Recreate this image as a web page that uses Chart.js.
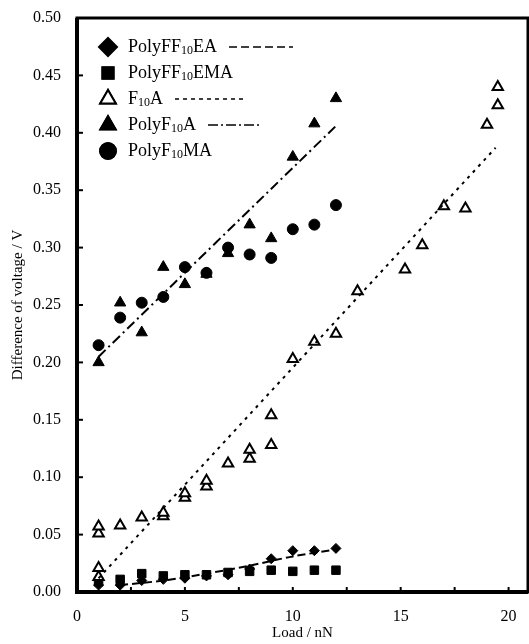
<!DOCTYPE html>
<html>
<head>
<meta charset="utf-8">
<script src="https://cdn.jsdelivr.net/npm/chart.js@4.4.1/dist/chart.umd.min.js"></script>
<style>
  html, body { margin: 0; padding: 0; background: #fff; }
</style>
</head>
<body>
<canvas id="chart" width="529" height="644"></canvas>
<script>
// values
const loadX = [1, 2, 3, 4, 5, 6, 7, 8, 9, 10, 11, 12];
const polyFF10EA = [0.006, 0.006, 0.010, 0.011, 0.012, 0.014, 0.015, 0.020, 0.029, 0.036, 0.036, 0.038];
const polyFF10EMA = [0.009, 0.011, 0.016, 0.014, 0.015, 0.015, 0.017, 0.018, 0.019, 0.018, 0.019, 0.019];
const polyF10A = [0.200, 0.252, 0.226, 0.283, 0.268, 0.277, 0.295, 0.320, 0.308, 0.379, 0.408, 0.430];
const polyF10MA = [0.215, 0.239, 0.252, 0.257, 0.283, 0.278, 0.300, 0.294, 0.291, 0.316, 0.320, 0.337];

const f10aX = [1, 1, 1, 1, 2, 3, 4, 4, 5, 5, 6, 6, 7, 8, 8, 9, 9, 10, 11, 12, 13, 15.2, 16, 17, 18, 19, 19.5, 19.5];
const f10aY = [0.013, 0.021, 0.051, 0.057, 0.058, 0.065, 0.066, 0.069, 0.082, 0.086, 0.092, 0.097, 0.112, 0.116, 0.124,
               0.128, 0.154, 0.203, 0.218, 0.225, 0.262, 0.281, 0.302, 0.336, 0.334, 0.407, 0.424, 0.440];

// fitted lines
const fitEAX = [2, 4, 6, 8, 10, 12];
const fitEAY = [0.006, 0.010, 0.016, 0.023, 0.031, 0.037];
const fitF10AX = [1, 19.4];
const fitF10AY = [0.012, 0.387];
const fitPolyF10AX = [1, 12];
const fitPolyF10AY = [0.205, 0.406];

const xTicks = [0, 5, 10, 15, 20];
const yTicks = [0, 0.05, 0.10, 0.15, 0.20, 0.25, 0.30, 0.35, 0.40, 0.45, 0.50];

const serif = '"Liberation Serif", "Times New Roman", serif';

function pts(xs, ys) {
    return xs.map((x, i) => ({ x: x, y: ys[i] }));
}

function markers(data, style, filled, r) {
    return {
        type: "scatter",
        data: data,
        pointStyle: style,
        pointRadius: r,
        pointHoverRadius: r,
        backgroundColor: filled ? "#000" : "#fff",
        borderColor: "#000",
        borderWidth: filled ? 1 : 2,
    };
}

function fitLine(data, dash) {
    return {
        type: "line",
        data: data,
        borderColor: "#000",
        borderWidth: 2,
        borderDash: dash,
        pointRadius: 0,
        fill: false,
        tension: 0.3,
    };
}

// frame, inward ticks and the x tick labels
const framePlugin = {
    id: "frame",
    beforeDatasetsDraw(chart) {
        const { ctx, chartArea: a, scales } = chart;
        ctx.save();
        ctx.strokeStyle = "#000";
        ctx.lineWidth = 2;
        for (let v = 0; v <= 20; v += 2.5) {
            const px = scales.x.getPixelForValue(v);
            ctx.beginPath();
            ctx.moveTo(px, a.bottom);
            ctx.lineTo(px, a.bottom - 5);
            ctx.stroke();
        }
        yTicks.forEach((v) => {
            const py = scales.y.getPixelForValue(v);
            ctx.beginPath();
            ctx.moveTo(a.left, py);
            ctx.lineTo(a.left + 6, py);
            ctx.stroke();
        });
        ctx.lineWidth = 3;
        ctx.strokeRect(a.left, a.top, a.right - a.left, a.bottom - a.top);
        ctx.lineWidth = 4;
        ctx.beginPath();
        ctx.moveTo(a.left, a.top);
        ctx.lineTo(a.left, a.bottom);
        ctx.lineTo(a.right, a.bottom);
        ctx.stroke();

        ctx.fillStyle = "#000";
        ctx.font = "16px " + serif;
        ctx.textAlign = "center";
        ctx.textBaseline = "middle";
        xTicks.forEach((v) => {
            ctx.fillText(String(v), scales.x.getPixelForValue(v), a.bottom + 25);
        });
        ctx.restore();
    },
};

// legend with subscripts, drawn inside the plot
const legendRows = [
    { parts: [["PolyFF", 0], ["10", 1], ["EA", 0]], style: "rectRot", filled: true, dash: [8, 4], len: 64 },
    { parts: [["PolyFF", 0], ["10", 1], ["EMA", 0]], style: "rect", filled: true, dash: null },
    { parts: [["F", 0], ["10", 1], ["A", 0]], style: "triangle", filled: false, dash: [4, 4], len: 70 },
    { parts: [["PolyF", 0], ["10", 1], ["A", 0]], style: "triangle", filled: true, dash: [10, 3, 2, 3], len: 53 },
    { parts: [["PolyF", 0], ["10", 1], ["MA", 0]], style: "circle", filled: true, dash: null },
];

const legendPlugin = {
    id: "subLegend",
    afterDatasetsDraw(chart) {
        const { ctx, chartArea: a } = chart;
        ctx.save();
        ctx.fillStyle = "#000";
        ctx.strokeStyle = "#000";
        ctx.textBaseline = "middle";
        legendRows.forEach((row, i) => {
            const y = a.top + 29 + i * 26;
            let r = 9;
            if (row.style === "rect") r = 8;
            if (row.style === "circle") r = 8;
            Chart.helpers.drawPoint(ctx, {
                pointStyle: row.style,
                radius: r,
                rotation: 0,
                borderWidth: 2,
            }, a.left + 31, y);
            ctx.fillStyle = row.filled ? "#000" : "#fff";
            ctx.lineWidth = 2;
            ctx.fill();
            ctx.stroke();
            ctx.fillStyle = "#000";
            let x = a.left + 51;
            row.parts.forEach(([txt, sub]) => {
                ctx.font = sub ? "12px " + serif : "18px " + serif;
                ctx.fillText(txt, x, y + (sub ? 4 : 0));
                x += ctx.measureText(txt).width;
            });
            if (row.dash) {
                ctx.setLineDash(row.dash);
                ctx.lineWidth = 1.5;
                ctx.beginPath();
                ctx.moveTo(x + 12, y);
                ctx.lineTo(x + 12 + row.len, y);
                ctx.stroke();
                ctx.setLineDash([]);
            }
        });
        ctx.restore();
    },
};

new Chart(document.getElementById("chart"), {
    data: {
        datasets: [
            fitLine(pts(fitEAX, fitEAY), [8, 4]),
            fitLine(pts(fitF10AX, fitF10AY), [3, 5]),
            fitLine(pts(fitPolyF10AX, fitPolyF10AY), [10, 4, 2, 4]),
            markers(pts(f10aX, f10aY), "triangle", false, 6),
            markers(pts(loadX, polyFF10EMA), "rect", true, 6),
            markers(pts(loadX, polyFF10EA), "rectRot", true, 5),
            markers(pts(loadX, polyF10A), "triangle", true, 6.5),
            markers(pts(loadX, polyF10MA), "circle", true, 5.5),
        ],
    },
    options: {
        responsive: false,
        animation: false,
        // no automatic padding for the point radius, the frame runs to the right edge
        layout: { autoPadding: false, padding: { top: 18, right: 1, left: 0, bottom: 0 } },
        plugins: { legend: { display: false }, tooltip: { enabled: false } },
        scales: {
            x: {
                type: "linear",
                min: 0,
                max: 20.9,
                border: { display: false },
                grid: { display: false, drawTicks: false },
                afterBuildTicks: (s) => { s.ticks = xTicks.map((v) => ({ value: v })); },
                afterFit: (s) => { s.height = 52; },
                ticks: { display: false },
                title: { display: true, text: "Load / nN", color: "#000", font: { family: serif, size: 15 }, padding: { top: 0, bottom: 2 } },
            },
            y: {
                type: "linear",
                min: 0,
                max: 0.5,
                border: { display: false },
                grid: { display: false, drawTicks: false },
                afterBuildTicks: (s) => { s.ticks = yTicks.map((v) => ({ value: v })); },
                afterFit: (s) => { s.width = 77; s.paddingTop = 0; s.paddingBottom = 0; },
                ticks: { color: "#000", padding: 16, font: { family: serif, size: 16 }, callback: (v) => v.toFixed(2) },
                title: { display: true, text: "Difference of voltage / V", color: "#000", font: { family: serif, size: 15 }, padding: { top: 9, bottom: 0 } },
            },
        },
    },
    plugins: [framePlugin, legendPlugin],
});
</script>
</body>
</html>
